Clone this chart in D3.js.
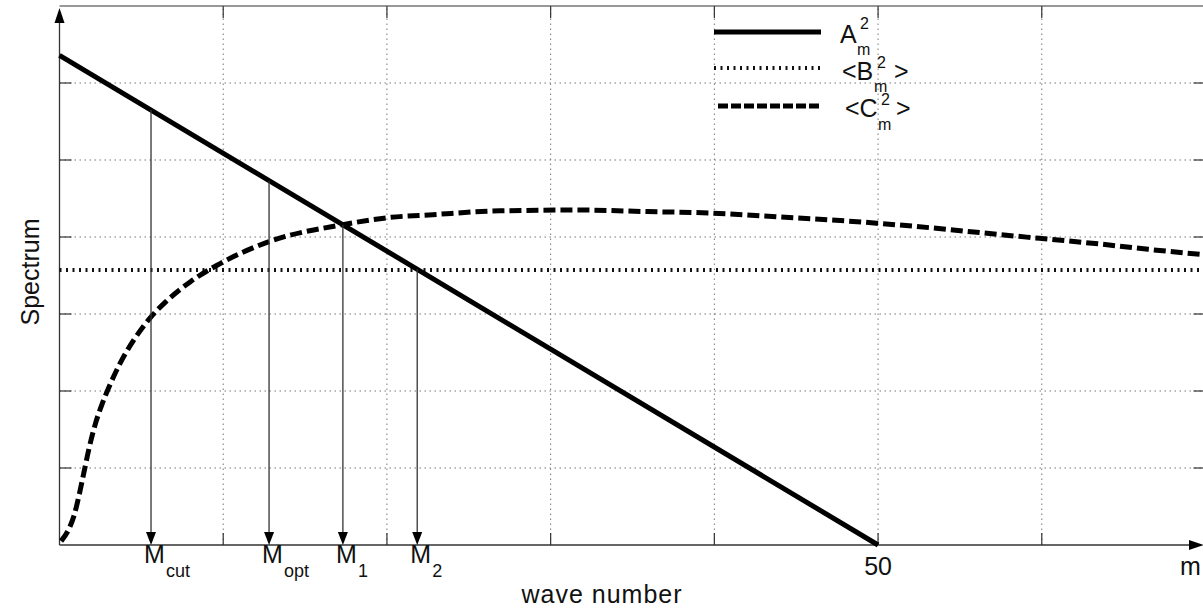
<!DOCTYPE html>
<html>
<head>
<meta charset="utf-8">
<script src="https://cdn.jsdelivr.net/npm/d3@7"></script>
<style>
  body { margin: 0; background: #fff; }
  svg { display: block; }
  text { font-family: "Liberation Sans", Arial, sans-serif; fill: #111; }
</style>
</head>
<body>
<svg id="chart" width="1203" height="613"></svg>
<script>
// ---- data ----
const xTicks = [10, 20, 30, 40, 50, 60];
const yTicks = [1, 2, 3, 4, 5, 6];
const xLabelTicks = [50];

// A^2_m : straight line from m=0 down to zero at m=50
const aM = [0, 50];
const aV = [6.36, 0];

// <B^2_m> : constant level
const bLevel = 3.57;

// <C^2_m> : rising then slowly falling curve
const cM = [0.1, 0.6, 0.9, 1.2, 1.5, 1.8, 2.2, 2.6, 3.0, 3.7, 4.5, 5.5, 6.5, 8.0, 9.6, 12.8, 17.3,
            20.0, 22.8, 26.9, 31.8, 35.9, 39.9, 44.0, 49.9, 53.2, 57.5, 60.0, 63.5, 66.5, 69.9];
const cV = [0.05, 0.22, 0.39, 0.65, 0.95, 1.25, 1.58, 1.83, 2.04, 2.36, 2.65, 2.94, 3.16, 3.42, 3.63, 3.94, 4.16,
            4.25, 4.29, 4.34, 4.35, 4.33, 4.31, 4.26, 4.18, 4.12, 4.03, 3.98, 3.91, 3.84, 3.77];

// marked wave numbers
const markNames = ['cut', 'opt', '1', '2'];
const markM = [5.59, 12.8, 17.31, 21.85];

// ---- layout ----
const svg = d3.select('#chart');
const x = d3.scaleLinear().domain([0, 70]).range([59.5, 1205.5]);
const y = d3.scaleLinear().domain([0, 7]).range([545, 6]);
const aAt = m => d3.scaleLinear().domain(aM).range(aV)(m);

const INK = '#333';

// Grid
const grid = svg.append('g').attr('stroke', '#777').attr('stroke-width', 1)
  .attr('stroke-dasharray', '1.5,3.5');
grid.selectAll('line.gx').data(xTicks).join('line')
  .attr('x1', d => x(d)).attr('x2', d => x(d))
  .attr('y1', y(0)).attr('y2', y(7));
grid.selectAll('line.gy').data(yTicks).join('line')
  .attr('y1', d => y(d)).attr('y2', d => y(d))
  .attr('x1', x(0)).attr('x2', x(70));

// Frame: top and right edges with inward ticks
svg.append('line').attr('x1', x(0)).attr('x2', x(70)).attr('y1', y(7)).attr('y2', y(7))
  .attr('stroke', INK).attr('stroke-width', 1.2);
const ticks = svg.append('g').attr('stroke', INK).attr('stroke-width', 1.2);
xTicks.forEach(t => {
  ticks.append('line').attr('x1', x(t)).attr('x2', x(t)).attr('y1', y(0)).attr('y2', y(0) - 12);
  ticks.append('line').attr('x1', x(t)).attr('x2', x(t)).attr('y1', y(7)).attr('y2', y(7) + 12);
});
yTicks.forEach(t => {
  ticks.append('line').attr('y1', y(t)).attr('y2', y(t)).attr('x1', x(0)).attr('x2', x(0) + 12);
  ticks.append('line').attr('y1', y(t)).attr('y2', y(t)).attr('x1', x(70)).attr('x2', x(70) - 12);
});

// Axes with arrow heads
svg.append('line').attr('x1', x(0)).attr('x2', 1192).attr('y1', y(0)).attr('y2', y(0))
  .attr('stroke', INK).attr('stroke-width', 1.3);
svg.append('line').attr('x1', x(0)).attr('x2', x(0)).attr('y1', y(0)).attr('y2', 20)
  .attr('stroke', INK).attr('stroke-width', 1.3);
svg.append('path').attr('d', `M1204,${y(0)}L1189,${y(0) - 5}L1189,${y(0) + 5}Z`).attr('fill', '#000');
svg.append('path').attr('d', `M${x(0)},8L${x(0) - 5},23L${x(0) + 5},23Z`).attr('fill', '#000');

// Series
const lineGen = d3.line().x(d => x(d[0])).y(d => y(d[1]));
const curveGen = d3.line().x(d => x(d[0])).y(d => y(d[1])).curve(d3.curveMonotoneX);

// B (dotted)
svg.append('path').datum([[0, bLevel], [70, bLevel]])
  .attr('d', lineGen).attr('fill', 'none')
  .attr('stroke', '#111').attr('stroke-width', 4).attr('stroke-dasharray', '2,4.5');

// C (dashed)
svg.append('path').datum(cM.map((m, i) => [m, cV[i]]))
  .attr('d', curveGen).attr('fill', 'none')
  .attr('stroke', '#000').attr('stroke-width', 5).attr('stroke-dasharray', '12,5');

// A (solid)
svg.append('path').datum(aM.map((m, i) => [m, aV[i]]))
  .attr('d', lineGen).attr('fill', 'none')
  .attr('stroke', '#000').attr('stroke-width', 5);

// Marker arrows
markM.forEach((m, i) => {
  const px = x(m);
  svg.append('line').attr('x1', px).attr('x2', px).attr('y1', y(aAt(m))).attr('y2', y(0) - 12)
    .attr('stroke', INK).attr('stroke-width', 1.3);
  svg.append('path').attr('d', `M${px},${y(0)}L${px - 5},${y(0) - 13}L${px + 5},${y(0) - 13}Z`)
    .attr('fill', '#000');
  svg.append('text').attr('x', px - 7).attr('y', 563).attr('font-size', 25).text('M');
  svg.append('text').attr('x', px - 7 + 22).attr('y', 577).attr('font-size', 18).text(markNames[i]);
});

// Tick labels
xLabelTicks.forEach(t => {
  svg.append('text').attr('x', x(t)).attr('y', 575).attr('text-anchor', 'middle')
    .attr('font-size', 25).text(t);
});
svg.append('text').attr('x', 1180).attr('y', 575).attr('font-size', 25).text('m');

// Axis titles
svg.append('text').attr('x', 602).attr('y', 603).attr('text-anchor', 'middle')
  .attr('font-size', 25).attr('letter-spacing', 1).text('wave number');
svg.append('text').attr('transform', 'translate(39,272) rotate(-90)')
  .attr('text-anchor', 'middle').attr('font-size', 25).text('Spectrum');

// Legend
const leg = svg.append('g');
leg.append('line').attr('x1', 714).attr('x2', 821).attr('y1', 32).attr('y2', 32)
  .attr('stroke', '#000').attr('stroke-width', 5);
leg.append('line').attr('x1', 714).attr('x2', 822).attr('y1', 68).attr('y2', 68)
  .attr('stroke', '#111').attr('stroke-width', 4).attr('stroke-dasharray', '2,4.5');
leg.append('line').attr('x1', 718).attr('x2', 821).attr('y1', 106).attr('y2', 106)
  .attr('stroke', '#000').attr('stroke-width', 5).attr('stroke-dasharray', '10,3');

const legendText = [
  { base: 'A',  bx: 840, by: 43,  sx: 860, supY: 29,  subY: 55,  subX: 857, close: null },
  { base: '<B', bx: 842, by: 80,  sx: 877, supY: 68,  subY: 92,  subX: 874, close: 894 },
  { base: '<C', bx: 845, by: 117, sx: 881, supY: 105, subY: 130, subX: 878, close: 896 }
];
legendText.forEach(d => {
  leg.append('text').attr('x', d.bx).attr('y', d.by).attr('font-size', 25).text(d.base);
  leg.append('text').attr('x', d.sx).attr('y', d.supY).attr('font-size', 16).text('2');
  leg.append('text').attr('x', d.subX).attr('y', d.subY).attr('font-size', 16).text('m');
  if (d.close) leg.append('text').attr('x', d.close).attr('y', d.by).attr('font-size', 25).text('>');
});
</script>
</body>
</html>
